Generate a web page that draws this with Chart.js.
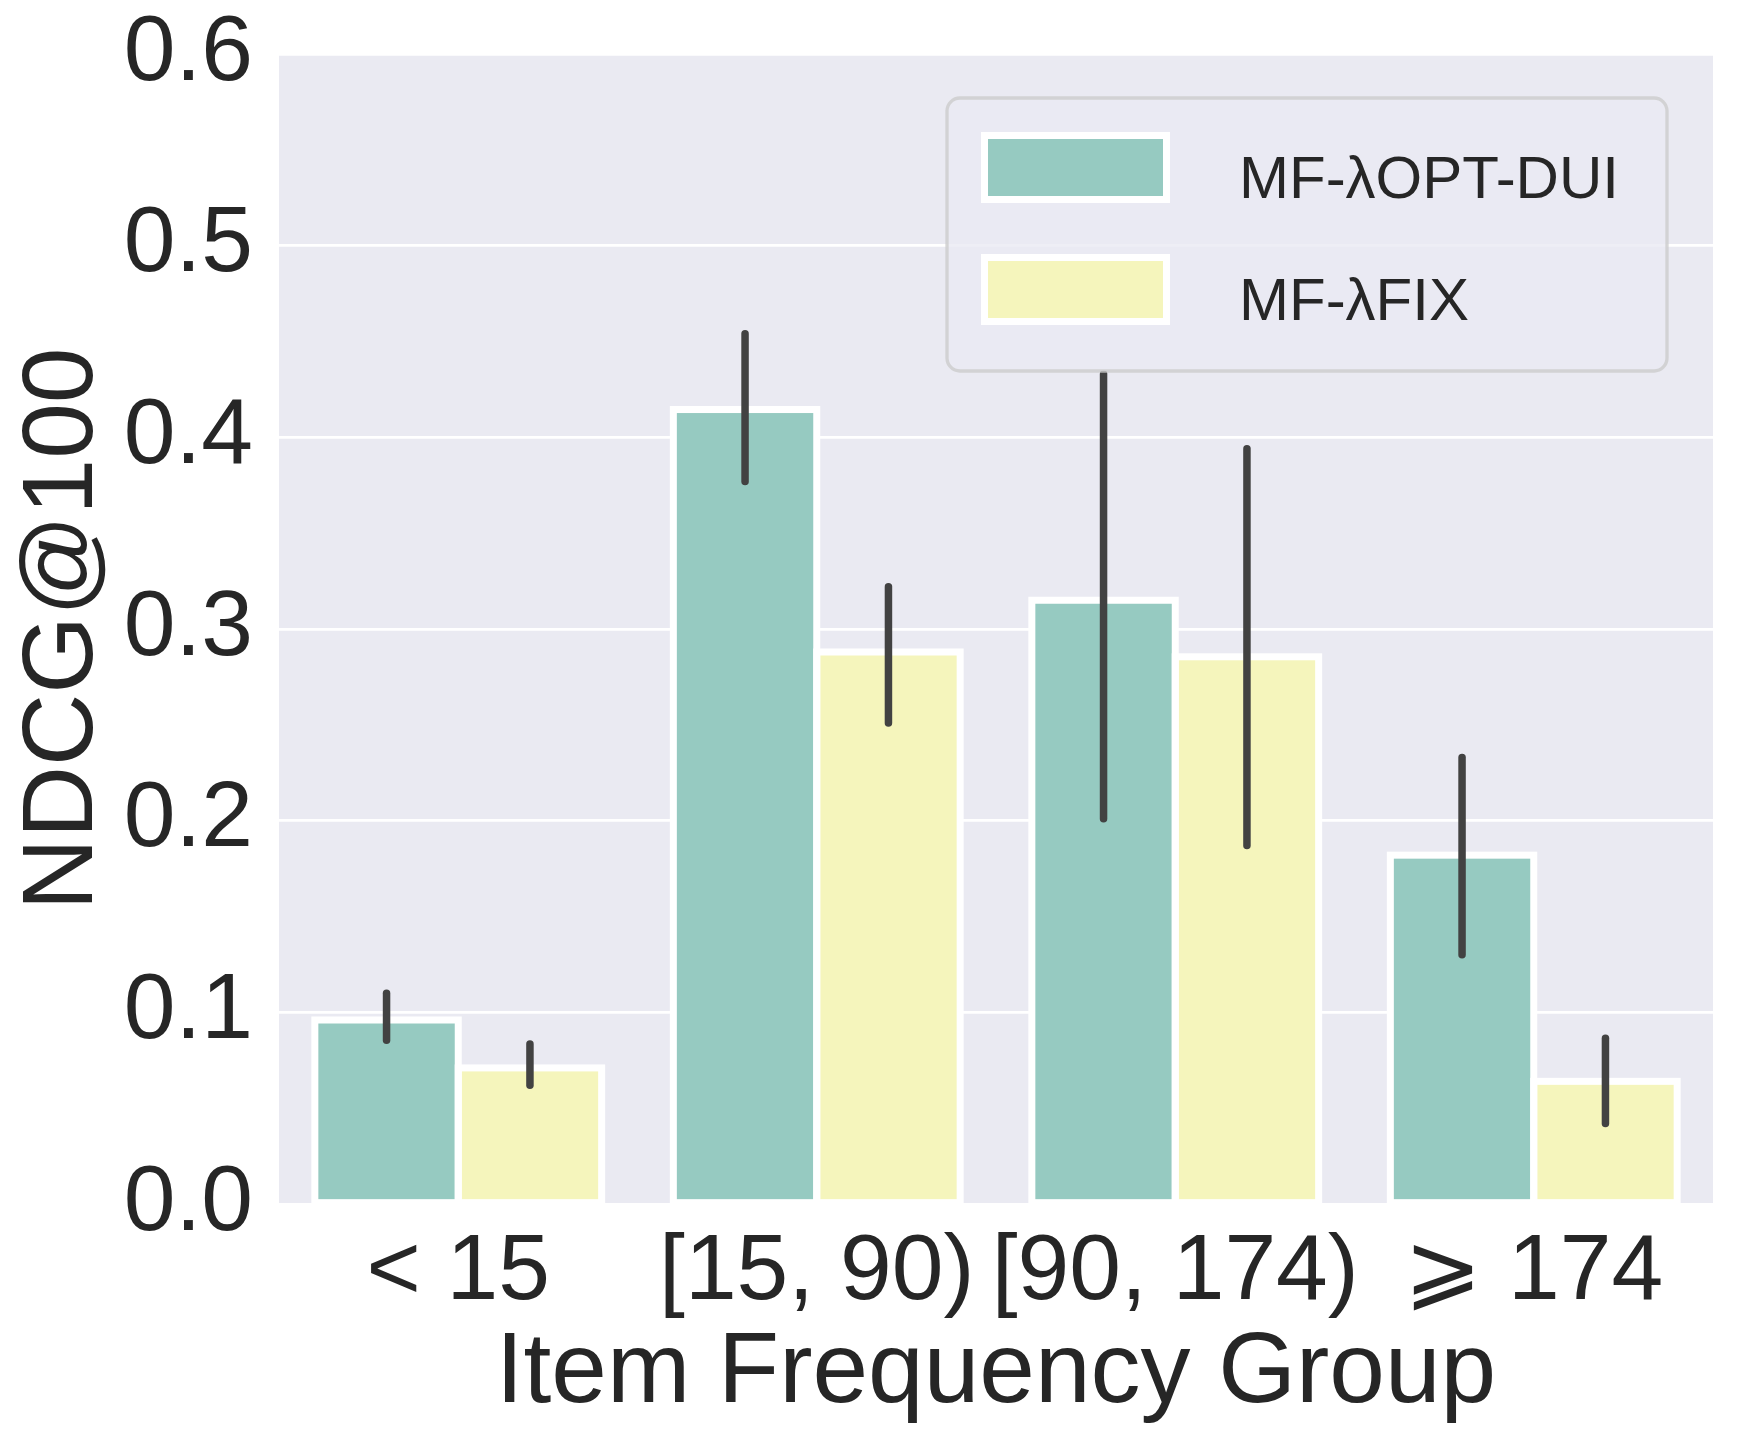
<!DOCTYPE html>
<html>
<head>
<meta charset="utf-8">
<script src="https://cdn.jsdelivr.net/npm/chart.js@4"></script>
<style>
  html, body { margin: 0; background: #ffffff; }
  #wrap { width: 1738px; height: 1442px; }
</style>
</head>
<body>
<div id="wrap"><canvas id="ndcgBars"></canvas></div>
<script>
var groups = ["< 15", "[15, 90)", "[90, 174)", "⩾ 174"];
var seriesNames = ["MF-λOPT-DUI", "MF-λFIX"];
var optDui = [0.096, 0.4145, 0.315, 0.182];
var optDuiLow = [0.0855, 0.377, 0.201, 0.130];
var optDuiHigh = [0.110, 0.454, 0.433, 0.233];
var fixLam = [0.071, 0.288, 0.2855, 0.064];
var fixLamLow = [0.062, 0.251, 0.187, 0.042];
var fixLamHigh = [0.0835, 0.322, 0.394, 0.0865];
var yTicks = [0.0, 0.1, 0.2, 0.3, 0.4, 0.5, 0.6];

var errLow = [optDuiLow, fixLamLow];
var errHigh = [optDuiHigh, fixLamHigh];
var FONT = "'Liberation Sans', Arial, Helvetica, sans-serif";

// seaborn-style grey panel behind the bars
var panelBg = {
  id: 'panelBg',
  beforeDraw: function (chart) {
    var a = chart.chartArea, c = chart.ctx;
    c.save();
    c.fillStyle = '#EAEAF2';
    c.fillRect(a.left, a.top, a.right - a.left, a.bottom - a.top);
    c.restore();
  }
};

// white edge centred on the bar outline (like matplotlib), then the CI lines
var barDecor = {
  id: 'barDecor',
  afterDatasetsDraw: function (chart) {
    var a = chart.chartArea, c = chart.ctx, y = chart.scales.y;
    c.save();
    c.beginPath();
    c.rect(a.left, a.top, a.right - a.left, a.bottom - a.top);
    c.clip();
    c.strokeStyle = '#ffffff';
    c.lineWidth = 7;
    chart.data.datasets.forEach(function (ds, i) {
      chart.getDatasetMeta(i).data.forEach(function (bar) {
        c.strokeRect(bar.x - bar.width / 2, bar.y, bar.width, bar.base - bar.y);
      });
    });
    c.strokeStyle = '#424242';
    c.lineWidth = 7.5;
    c.lineCap = 'round';
    chart.data.datasets.forEach(function (ds, i) {
      chart.getDatasetMeta(i).data.forEach(function (bar, j) {
        c.beginPath();
        c.moveTo(bar.x, y.getPixelForValue(errLow[i][j]));
        c.lineTo(bar.x, y.getPixelForValue(errHigh[i][j]));
        c.stroke();
      });
    });
    c.restore();
  }
};

// legend box in the upper right of the panel
var boxLegend = {
  id: 'boxLegend',
  afterDraw: function (chart) {
    var a = chart.chartArea, c = chart.ctx;
    var w = 720, h = 273;
    var left = a.right - 46 - w, top = a.top + 44;
    c.save();
    c.beginPath();
    c.roundRect(left, top, w, h, 13);
    c.fillStyle = 'rgba(234,234,242,0.8)';
    c.fill();
    c.lineWidth = 3.3;
    c.strokeStyle = 'rgba(204,204,204,0.8)';
    c.stroke();
    c.font = '60px ' + FONT;
    c.textBaseline = 'alphabetic';
    chart.data.datasets.forEach(function (ds, i) {
      var hy = top + 34 + i * 122;
      c.fillStyle = '#ffffff';
      c.fillRect(left + 34, hy, 189, 71);
      c.fillStyle = ds.backgroundColor;
      c.fillRect(left + 41, hy + 7, 175, 57);
      c.fillStyle = '#262626';
      c.fillText(ds.label, left + 292, hy + 66);
    });
    c.restore();
  }
};

new Chart(document.getElementById('ndcgBars'), {
  type: 'bar',
  data: {
    labels: groups,
    datasets: [
      { label: seriesNames[0], data: optDui, backgroundColor: '#96CAC1', borderWidth: 0 },
      { label: seriesNames[1], data: fixLam, backgroundColor: '#F5F5BC', borderWidth: 0 }
    ]
  },
  options: {
    responsive: true,
    maintainAspectRatio: false,
    animation: false,
    devicePixelRatio: 1,
    categoryPercentage: 0.8,
    barPercentage: 1.0,
    layout: { padding: { left: 4, right: 25, top: 54, bottom: 8 } },
    plugins: { legend: { display: false }, tooltip: { enabled: false } },
    scales: {
      x: {
        grid: { display: false },
        border: { display: false },
        ticks: { color: '#262626', font: { family: FONT, size: 93 }, padding: 6, maxRotation: 0, autoSkip: false },
        title: { display: true, text: 'Item Frequency Group', color: '#262626', font: { family: FONT, size: 100 }, padding: { top: 0, bottom: 0 } },
        afterFit: function (s) { s.height = 230; s.paddingLeft = 0; s.paddingRight = 0; }
      },
      y: {
        min: 0,
        max: 0.6,
        afterBuildTicks: function (s) { s.ticks = yTicks.map(function (v) { return { value: v }; }); },
        grid: { color: '#ffffff', lineWidth: 2.7, drawTicks: false },
        border: { display: false },
        ticks: { color: '#262626', font: { family: FONT, size: 93 }, padding: 26, callback: function (v) { return v.toFixed(1); } },
        title: { display: true, text: 'NDCG@100', color: '#262626', font: { family: FONT, size: 100 }, padding: { top: 0, bottom: 0 } },
        afterFit: function (s) { s.width = 275; s.paddingTop = 0; s.paddingBottom = 0; }
      }
    }
  },
  plugins: [panelBg, barDecor, boxLegend]
});
</script>
</body>
</html>
